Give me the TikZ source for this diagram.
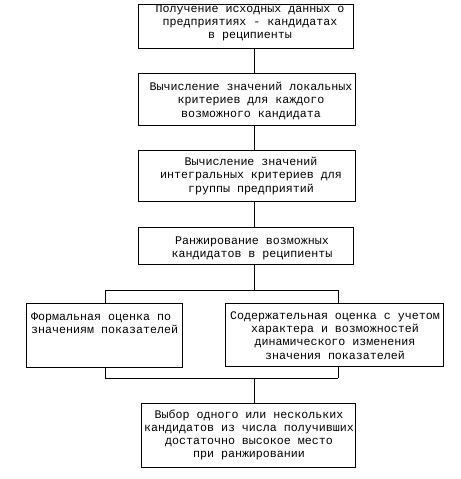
\documentclass[tikz,border=0pt]{standalone}
\usepackage{fontspec}
\newfontfamily\monofnt{Liberation Mono}
\begin{document}
\begin{tikzpicture}[x=1bp,y=-1bp,
  box/.style={draw, line width=0.9bp, rectangle, inner sep=0pt},
  txt/.style={font=\monofnt\fontsize{11.7}{13.2}\selectfont, inner sep=0pt, align=center},
  conn/.style={line width=0.8bp}]
\useasboundingbox (0,0) rectangle (461,479);
% boxes
\node[box, minimum width=215bp, minimum height=44bp] (b1) at (245.5,26) {};
\node[box, minimum width=217bp, minimum height=52bp] (b2) at (246.5,99) {};
\node[box, minimum width=217bp, minimum height=51bp] (b3) at (246.5,175.5) {};
\node[box, minimum width=215bp, minimum height=37bp] (b4) at (245.5,245.5) {};
\node[box, minimum width=156bp, minimum height=64bp] (b5l) at (104,335) {};
\node[box, minimum width=218bp, minimum height=63bp] (b5r) at (334,334.5) {};
\node[box, minimum width=214bp, minimum height=64bp] (b6) at (248,435) {};
% texts
\node[txt] (t1) at (250,23) {Получение исходных данных о\\предприятиях - кандидатах\\в реципиенты};
\node[txt] (t2) at (251,101) {Вычисление значений локальных\\критериев для каждого\\возможного кандидата};
\node[txt] (t3) at (251,176) {Вычисление значений\\интегральных критериев для\\группы предприятий};
\node[txt] (t4) at (252,248) {Ранжирование возможных\\кандидатов в реципиенты};
\node[txt, align=left, anchor=west] (t5l) at (31,323.5) {Формальная оценка по\\значениям показателей};
\node[txt] (t5r) at (335,335.5) {Содержательная оценка с учетом\\характера и возможностей\\динамического изменения\\значения показателей};
\node[txt] (t6) at (249,435) {Выбор одного или нескольких\\кандидатов из числа получивших\\достаточно высокое место\\при ранжировании};
% connector coordinates
\coordinate (sx) at (254,0);
\coordinate (bt) at (254,290);
\coordinate (lt) at (105,290);
\coordinate (rt) at (338,290);
\coordinate (bb) at (254,378);
\coordinate (lb) at (105,378);
\coordinate (rb) at (338,378);
% connectors
\draw[conn] (b1.south -| sx) -- (b2.north -| sx);
\draw[conn] (b2.south -| sx) -- (b3.north -| sx);
\draw[conn] (b3.south -| sx) -- (b4.north -| sx);
\draw[conn] (b4.south -| sx) -- (bt);
\draw[conn] (lt) -- (rt);
\draw[conn] (lt) -- (lt |- b5l.north);
\draw[conn] (rt) -- (rt |- b5r.north);
\draw[conn] (lt |- b5l.south) -- (lb);
\draw[conn] (rt |- b5r.south) -- (rb);
\draw[conn] (lb) -- (rb);
\draw[conn] (bb) -- (b6.north -| sx);
\end{tikzpicture}
\end{document}
